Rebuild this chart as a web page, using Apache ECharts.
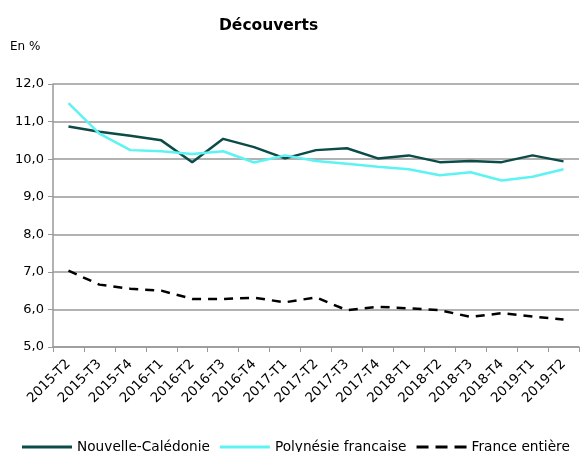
<!DOCTYPE html>
<html>
<head>
<meta charset="utf-8">
<script src="https://cdn.jsdelivr.net/npm/echarts@6/dist/echarts.min.js"></script>
<style>
  html, body { margin: 0; padding: 0; background: #fff; }
  #chart { width: 584px; height: 452px; }
</style>
</head>
<body>
<div id="chart"></div>
<script>
var categories = ['2015-T2', '2015-T3', '2015-T4', '2016-T1', '2016-T2', '2016-T3', '2016-T4',
  '2017-T1', '2017-T2', '2017-T3', '2017-T4', '2018-T1', '2018-T2', '2018-T3', '2018-T4',
  '2019-T1', '2019-T2'];

var nouvelleCaledonie = [10.87, 10.73, 10.62, 10.50, 9.92, 10.54, 10.32, 10.02, 10.24, 10.29,
  10.02, 10.10, 9.92, 9.95, 9.92, 10.10, 9.94];
var polynesie = [11.49, 10.68, 10.24, 10.21, 10.14, 10.21, 9.91, 10.10, 9.95, 9.88,
  9.80, 9.73, 9.57, 9.65, 9.43, 9.53, 9.73];
var franceEntiere = [7.03, 6.66, 6.55, 6.50, 6.28, 6.28, 6.31, 6.19, 6.32, 5.98,
  6.07, 6.03, 5.98, 5.80, 5.90, 5.81, 5.73];

var FONT = 'DejaVu Sans';
var DARK = '#0b4b48';
var CYAN = '#5ef3f3';

// legend icons: plain bar for solid lines, three dashes for the dashed one
var solidIcon = 'path://M0,0h50v3h-50z';
var dashIcon = 'path://M0,0h12v3h-12z M19,0h12v3h-12z M38,0h12v3h-12z';

var chart = echarts.init(document.getElementById('chart'));
chart.setOption({
  animation: false,
  title: {
    text: 'Découverts',
    left: 214,
    top: 13,
    textStyle: { fontFamily: FONT, fontSize: 15.5, fontWeight: 'bold', color: '#000' }
  },
  grid: { left: 53, right: 5, top: 84, bottom: 105 },
  legend: {
    bottom: -2,
    left: 22,
    padding: 0,
    itemWidth: 50,
    itemHeight: 3,
    itemGap: 10,
    textStyle: { fontFamily: FONT, fontSize: 13.7, color: '#000' },
    data: [
      { name: 'Nouvelle-Calédonie', icon: solidIcon },
      { name: 'Polynésie francaise', icon: solidIcon },
      { name: 'France entière', icon: dashIcon }
    ]
  },
  xAxis: {
    type: 'category',
    data: categories,
    boundaryGap: true,
    axisLine: { lineStyle: { color: '#999', width: 1.5 } },
    axisTick: { show: true, length: 5, lineStyle: { color: '#999' } },
    axisLabel: {
      interval: 0,
      rotate: 45,
      fontFamily: FONT,
      fontSize: 13.5,
      color: '#000',
      margin: 15
    }
  },
  yAxis: {
    type: 'value',
    name: 'En %',
    nameLocation: 'end',
    nameGap: 31,
    nameTextStyle: { fontFamily: FONT, fontSize: 12, color: '#000', align: 'left', padding: [0, 0, 0, -43] },
    min: 5,
    max: 12,
    interval: 1,
    axisLine: { show: true, lineStyle: { color: '#999', width: 1.5 } },
    axisTick: { show: true, length: 5, lineStyle: { color: '#999' } },
    splitLine: { lineStyle: { color: '#999', width: 1.5 } },
    axisLabel: {
      fontFamily: FONT,
      fontSize: 13,
      color: '#000',
      margin: 9,
      formatter: function (v) { return v.toFixed(1).replace('.', ','); }
    }
  },
  series: [
    {
      name: 'Nouvelle-Calédonie',
      type: 'line',
      data: nouvelleCaledonie,
      symbol: 'none',
      color: DARK,
      lineStyle: { width: 2.5, color: DARK }
    },
    {
      name: 'Polynésie francaise',
      type: 'line',
      data: polynesie,
      symbol: 'none',
      color: CYAN,
      lineStyle: { width: 2.5, color: CYAN }
    },
    {
      name: 'France entière',
      type: 'line',
      data: franceEntiere,
      symbol: 'none',
      color: '#000',
      lineStyle: { width: 2.5, color: '#000', type: [9, 7] }
    }
  ]
});
</script>
</body>
</html>
